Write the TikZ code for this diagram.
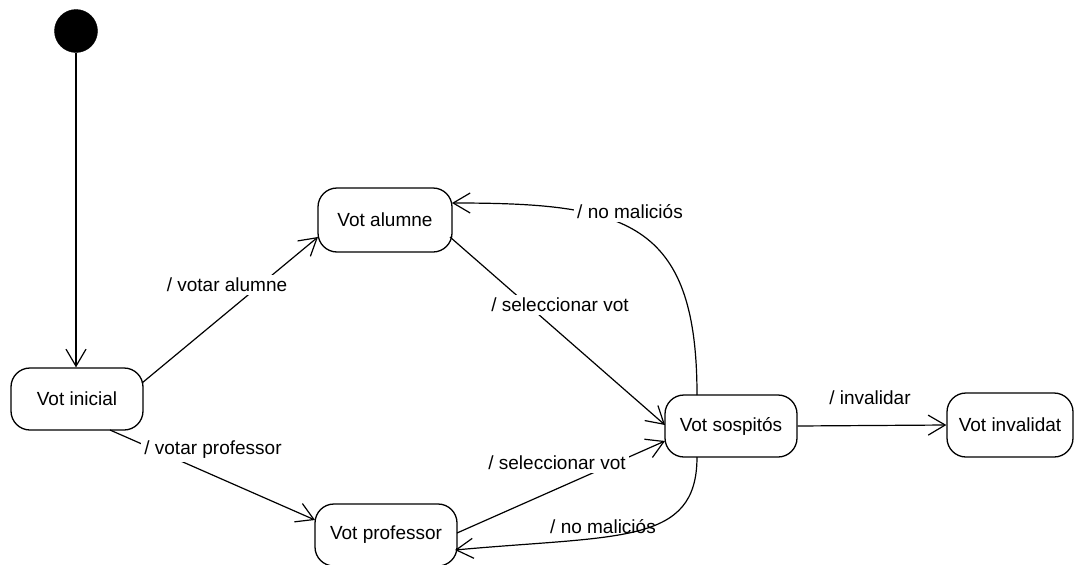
\documentclass[tikz,border=0pt]{standalone}
\usepackage{fontspec}
\setmainfont{Liberation Sans}
\usetikzlibrary{arrows.meta,calc}
\begin{document}
\begin{tikzpicture}[x=1pt,y=-1pt,
  font=\fontsize{19}{22}\selectfont,
  state/.style={draw,line width=1.3pt,rounded corners=19pt,inner sep=0pt,
    minimum width=#1,minimum height=62pt},
  state/.default=132pt,
  initstate/.style={circle,fill=black,draw=black,minimum size=43pt,inner sep=0pt},
  trans/.style={line width=1.2pt,-{Straight Barb[length=17pt,width=20pt,line width=1.2pt]}},
  lbl/.style={inner sep=3pt},
  lblw/.style={inner sep=3pt,fill=white}]
\useasboundingbox (0,0) rectangle (1074,565);

% states
\node[initstate] (init) at (76,31) {};
\node[state=132pt] (inicial) at (77,399) {Vot inicial};
\node[state=134pt,minimum height=64pt] (alumne) at (385,220) {Vot alumne};
\node[state=142pt] (professor) at (386,535) {Vot professor};
\node[state=132pt] (sospitos) at (731,426) {Vot sospitós};
\node[state=126pt,minimum height=64pt] (invalidat) at (1010,425) {Vot invalidat};

% transitions
\draw[trans] (init) -- (init |- inicial.north);
\draw[trans] ($(inicial.center)+(65,-16)$) -- ($(alumne.center)+(-67,17)$);
\draw[trans] ($(inicial.center)+(33,31)$) -- ($(professor.center)+(-71,-15)$);
\draw[trans] ($(alumne.center)+(65,17)$) -- ($(sospitos.center)+(-66,-1)$);
\draw[trans] ($(professor.center)+(71,-2)$) -- ($(sospitos.center)+(-66,15)$);
\draw[trans] ($(sospitos.center)+(-34,-31)$) .. controls (697,220) and (625,203) .. ($(alumne.center)+(67,-17)$);
\draw[trans] ($(sospitos.center)+(-34,31)$) .. controls (697,545) and (620,535) .. ($(professor.center)+(69,15)$);
\draw[trans] (sospitos.east) -- (invalidat.west);

% transition labels
\node[lblw] (l1) at (227,285) {/ votar alumne};
\node[lblw] (l2) at (213,450) {/ votar professor};
\node[lblw] (l3) at (560,305) {/ seleccionar vot};
\node[lblw] (l4) at (557,463) {/ seleccionar vot};
\node[lblw] (l5) at (630,212) {/ no maliciós};
\node[lbl] (l6) at (603,527) {/ no maliciós};
\node[lbl] (l7) at (870,398) {/ invalidar};
\end{tikzpicture}
\end{document}
